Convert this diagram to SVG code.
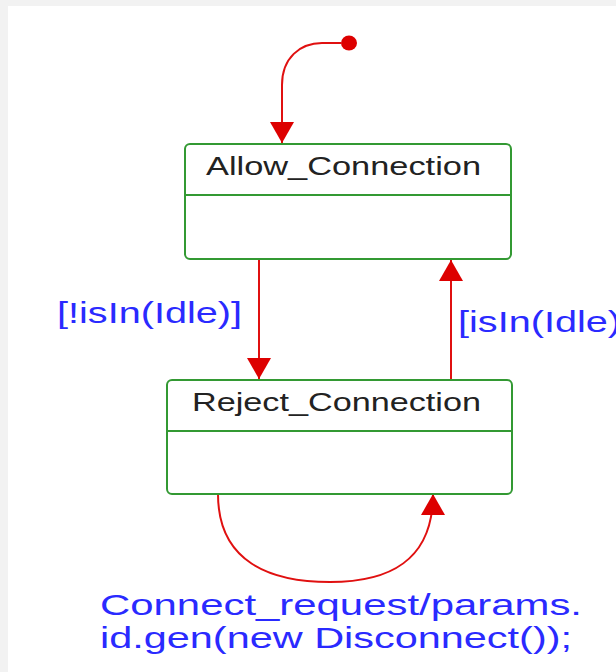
<svg xmlns="http://www.w3.org/2000/svg" width="616" height="672" viewBox="0 0 616 672">
<style>
.state{fill:#fff;stroke:#339933;stroke-width:2}
.div{stroke:#339933;stroke-width:2}
.name{font-family:"Liberation Sans",Arial,sans-serif;font-size:25px;fill:#222}
.lbl{font-family:"Liberation Sans",Arial,sans-serif;font-size:30px;fill:#2a2aff}
.tr{fill:none;stroke:#e01010;stroke-width:2}
</style>
<defs>
<marker id="ah" viewBox="0 0 21 24" refX="21" refY="12" markerWidth="21" markerHeight="24" markerUnits="userSpaceOnUse" orient="auto">
<path d="M0,0 L21,12 L0,24 z" fill="#dd0000"/>
</marker>
</defs>
<rect x="0" y="0" width="616" height="672" fill="#f2f2f2"/>
<rect x="8" y="6" width="608" height="666" fill="#fff"/>
<g id="connectors">
<path class="tr" d="M341,43 L322,43 C300,43 282,58 282,85 L282,143" marker-end="url(#ah)"/>
<path class="tr" d="M259,259 L259,379" marker-end="url(#ah)"/>
<path class="tr" d="M451,380 L451,260" marker-end="url(#ah)"/>
<path class="tr" d="M218,494 C218,562 270,582 330,582 C388,582 433,562 433,494" marker-end="url(#ah)"/>
</g>
<g id="initial">
<ellipse cx="349" cy="43" rx="8" ry="7.5" fill="#dd0000"/>
</g>
<g id="allow_connection">
<rect class="state" x="185" y="144" width="326" height="115" rx="5"/>
<line class="div" x1="185" y1="195" x2="511" y2="195"/>
<text class="name" x="206" y="175" textLength="275" lengthAdjust="spacingAndGlyphs">Allow_Connection</text>
</g>
<g id="reject_connection">
<rect class="state" x="167" y="380" width="345" height="114" rx="5"/>
<line class="div" x1="167" y1="431" x2="512" y2="431"/>
<text class="name" x="192" y="411" textLength="289" lengthAdjust="spacingAndGlyphs">Reject_Connection</text>
</g>
<g id="labels">
<text class="lbl" x="57" y="323" textLength="185" lengthAdjust="spacingAndGlyphs">[!isIn(Idle)]</text>
<text class="lbl" x="458" y="332" textLength="163" lengthAdjust="spacingAndGlyphs">[isIn(Idle)</text>
<text class="lbl" x="100" y="615" textLength="482" lengthAdjust="spacingAndGlyphs">Connect_request/params.</text>
<text class="lbl" x="100" y="648" textLength="472" lengthAdjust="spacingAndGlyphs">id.gen(new Disconnect());</text>
</g>
</svg>
